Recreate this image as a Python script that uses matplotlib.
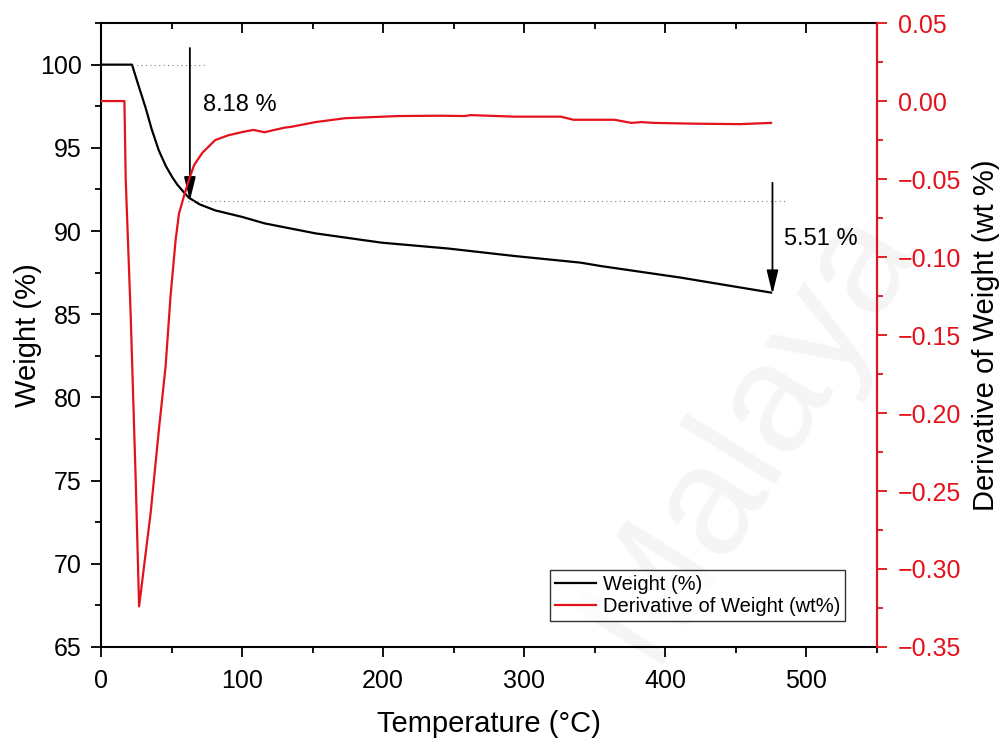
import matplotlib
matplotlib.use("Agg")
import matplotlib.pyplot as plt
from matplotlib.ticker import MultipleLocator, FuncFormatter

plt.rcParams['font.family'] = ['Liberation Sans', 'DejaVu Sans']
plt.rcParams['axes.unicode_minus'] = True

# TGA curve (weight %)
temp_w = [0, 22, 26, 31.5, 36, 41, 46, 50.5, 54, 57.6, 62.3, 70, 81, 100, 116,
          152, 199, 246, 293, 340, 354, 411, 475]
weight = [100, 100, 98.9, 97.44, 96.1, 94.84, 93.9, 93.24, 92.8, 92.44, 92.0,
          91.6, 91.24, 90.85, 90.46, 89.86, 89.3, 88.95, 88.5, 88.1, 87.9,
          87.2, 86.3]

# DTG curve (derivative of weight)
temp_d = [0, 16.6, 17.5, 21, 24.6, 27, 35.2, 41, 45.8, 49.3, 52.9, 55.3,
          58.8, 62.3, 66, 72, 81, 90, 100, 108, 116, 123, 130.5, 135, 152,
          173, 211, 240, 258, 262, 293, 326, 335, 354, 364, 376, 383, 392,
          420, 453, 475]
deriv = [0, 0, -0.05, -0.136, -0.243, -0.324, -0.264, -0.211, -0.17, -0.125,
         -0.089, -0.072, -0.061, -0.0506, -0.041, -0.033, -0.025, -0.022,
         -0.0199, -0.0185, -0.020, -0.0185, -0.017, -0.0165, -0.0135, -0.011,
         -0.0096, -0.0094, -0.0096, -0.0090, -0.010, -0.010, -0.012, -0.012,
         -0.012, -0.014, -0.0135, -0.014, -0.0145, -0.0148, -0.014]

# mass loss steps
step_temps = [63, 476]
step_levels = [100, 91.82, 86.31]
step_labels = ["8.18 %", "5.51 %"]

red = '#e3121b'

fig = plt.figure(figsize=(10.05, 7.44), dpi=100)
ax = fig.add_axes([0.1005, 0.1304, 0.772, 0.8386])
ax.set_facecolor('none')

# faint watermark behind everything
fig.text(0.745, 0.42, "Malaya", rotation=58, fontsize=112, color='#f5f5f5',
         ha='center', va='center', zorder=-5)

l1, = ax.plot(temp_w, weight, color='black', lw=1.6, label='Weight (%)')

# dotted reference lines
ax.plot([22, 74], [step_levels[0]] * 2, ls=(0, (1, 3)), color='gray', lw=0.8)
ax.plot([62, 485], [step_levels[1]] * 2, ls=(0, (1, 3)), color='gray', lw=0.8)

# arrows
astyle = '-|>,head_length=0.9,head_width=0.22'
ax.annotate('', xy=(step_temps[0], step_levels[1]), xytext=(step_temps[0], 101.0),
            arrowprops=dict(arrowstyle=astyle, color='black', lw=1.3,
                            mutation_scale=16, shrinkA=0, shrinkB=0))
ax.annotate('', xy=(step_temps[1], step_levels[2] - 0.1), xytext=(step_temps[1], 92.9),
            arrowprops=dict(arrowstyle=astyle, color='black', lw=1.3,
                            mutation_scale=16, shrinkA=0, shrinkB=0))
ax.text(72, 97.6, step_labels[0], fontsize=17, va='center')
ax.text(484, 89.55, step_labels[1], fontsize=17, va='center')

ax.set_xlim(0, 550)
ax.set_ylim(65, 102.5)
ax.xaxis.set_major_locator(MultipleLocator(100))
ax.xaxis.set_minor_locator(MultipleLocator(50))
ax.yaxis.set_major_locator(MultipleLocator(5))
ax.yaxis.set_minor_locator(MultipleLocator(2.5))
ax.tick_params(axis='both', which='major', labelsize=18, length=7, width=1.3,
               direction='out', pad=7)
ax.tick_params(axis='x', which='major', pad=9)
ax.tick_params(axis='both', which='minor', length=4, width=1.3, direction='out')
ax.tick_params(axis='x', top=True, which='both')
for s in ax.spines.values():
    s.set_linewidth(1.5)
ax.set_xlabel('Temperature (°C)', fontsize=21, labelpad=12)
ax.set_ylabel('Weight (%)', fontsize=21, labelpad=-2)

# top ticks pointing inward
for t in ax.xaxis.get_major_ticks() + ax.xaxis.get_minor_ticks():
    t.tick2line.set_marker(3)

ax2 = ax.twinx()
l2, = ax2.plot(temp_d, deriv, color=red, lw=1.6, label='Derivative of Weight (wt%)')
ax2.set_ylim(-0.35, 0.05)
ax2.yaxis.set_major_locator(MultipleLocator(0.05))
ax2.yaxis.set_minor_locator(MultipleLocator(0.025))
ax2.yaxis.set_major_formatter(
    FuncFormatter(lambda v, p: f"{v:.2f}".replace("-", "\u2212")
                  if round(v, 3) != 0 else "0.00"))
ax2.tick_params(axis='y', which='major', labelsize=18, length=7, width=1.3,
                colors=red, direction='out', pad=8)
ax2.tick_params(axis='y', which='minor', length=4, width=1.3, colors=red,
                direction='out')
ax2.spines['right'].set_color(red)
ax2.spines['right'].set_linewidth(1.5)
for k in ['left', 'top', 'bottom']:
    ax2.spines[k].set_visible(False)
ax2.set_ylabel('Derivative of Weight (wt %)', fontsize=21, color='black',
               labelpad=8)

leg = ax2.legend([l1, l2], [l1.get_label(), l2.get_label()], loc='lower right',
                 bbox_to_anchor=(0.959, 0.042), borderaxespad=0, fontsize=14.5,
                 frameon=True, fancybox=False, edgecolor='black',
                 handlelength=2.0, borderpad=0.25, labelspacing=0.15,
                 handletextpad=0.35)
leg.get_frame().set_linewidth(1.0)

fig.savefig('out.png', dpi=100)
